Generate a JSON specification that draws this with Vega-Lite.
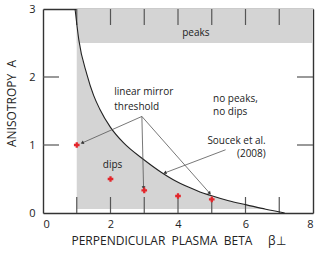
{
  "$schema": "https://vega.github.io/schema/vega-lite/v6.json",
  "width": 270,
  "height": 204,
  "autosize": {"type": "none"},
  "padding": {"left": 43, "top": 9, "right": 19, "bottom": 44},
  "config": {
    "view": {"stroke": null},
    "font": "Open Sans",
    "axis": {
      "domainColor": "#333333",
      "domainWidth": 1.4,
      "ticks": false,
      "labelColor": "#222222",
      "labelFontSize": 11,
      "titleColor": "#222222",
      "titleFontSize": 12,
      "titleFontWeight": "normal",
      "grid": false,
      "zindex": 1
    }
  },
  "datasets": {
    "band": [{"x": 1, "x2": 8, "y": 2.5, "y2": 3}],
    "curve": [
      {"beta": 0.95, "a": 3.0},
      {"beta": 1.06, "a": 2.55},
      {"beta": 1.3, "a": 2.04},
      {"beta": 1.5, "a": 1.73},
      {"beta": 1.68, "a": 1.53},
      {"beta": 2.0, "a": 1.26},
      {"beta": 2.39, "a": 1.03},
      {"beta": 3.0, "a": 0.78},
      {"beta": 3.5, "a": 0.6},
      {"beta": 3.86, "a": 0.49},
      {"beta": 4.36, "a": 0.37},
      {"beta": 4.65, "a": 0.31},
      {"beta": 4.95, "a": 0.26},
      {"beta": 5.5, "a": 0.18},
      {"beta": 6.03, "a": 0.12},
      {"beta": 6.6, "a": 0.055},
      {"beta": 7.16, "a": 0.0}
    ],
    "dips": [
      {"beta": 1.0, "a": 2.8},
      {"beta": 1.06, "a": 2.55},
      {"beta": 1.3, "a": 2.04},
      {"beta": 1.5, "a": 1.73},
      {"beta": 1.68, "a": 1.53},
      {"beta": 2.0, "a": 1.26},
      {"beta": 2.39, "a": 1.03},
      {"beta": 3.0, "a": 0.78},
      {"beta": 3.5, "a": 0.6},
      {"beta": 3.86, "a": 0.49},
      {"beta": 4.36, "a": 0.37},
      {"beta": 4.65, "a": 0.31},
      {"beta": 4.95, "a": 0.26},
      {"beta": 5.5, "a": 0.18},
      {"beta": 6.03, "a": 0.12},
      {"beta": 6.6, "a": 0.06}
    ],
    "mirror": [
      {"beta": 1, "a": 1.0},
      {"beta": 2, "a": 0.5},
      {"beta": 3, "a": 0.333},
      {"beta": 4, "a": 0.25},
      {"beta": 5, "a": 0.2}
    ],
    "arrows": [
      {"x": 2.93, "y": 1.42, "x2": 1.16, "y2": 1.03, "angle": 246},
      {"x": 2.93, "y": 1.42, "x2": 2.98, "y2": 0.37, "angle": 179},
      {"x": 2.93, "y": 1.42, "x2": 4.94, "y2": 0.29, "angle": 139},
      {"x": 5.41, "y": 0.93, "x2": 3.61, "y2": 0.59, "angle": 249}
    ],
    "ticksX": [
      {"v": 1}, {"v": 2}, {"v": 3}, {"v": 4}, {"v": 5}, {"v": 6}, {"v": 7}
    ],
    "ticksY": [
      {"v": 1}, {"v": 2}
    ],
    "labelsLeft": [
      {"text": "linear mirror", "x": 2.11, "y": 1.774},
      {"text": "threshold", "x": 2.11, "y": 1.56},
      {"text": "no peaks,", "x": 5.04, "y": 1.68},
      {"text": "no dips", "x": 5.04, "y": 1.485}
    ],
    "labelsCenter": [
      {"text": "peaks", "x": 4.53, "y": 2.64},
      {"text": "dips", "x": 2.06, "y": 0.7}
    ],
    "labelsRight": [
      {"text": "Soucek et al.", "x": 6.6, "y": 1.06},
      {"text": "(2008)", "x": 6.6, "y": 0.87}
    ]
  },
  "layer": [
    {
      "data": {"name": "band"},
      "mark": {"type": "rect", "fill": "#d4d4d4"},
      "encoding": {
        "x": {"field": "x", "type": "quantitative",
              "scale": {"domain": [0, 8], "nice": false, "zero": false},
              "axis": {"orient": "top", "values": [1, 2, 3, 4, 5, 6, 7], "labels": false, "title": null}},
        "x2": {"field": "x2"},
        "y": {"field": "y", "type": "quantitative",
              "scale": {"domain": [0, 3], "nice": false, "zero": false},
              "axis": {"orient": "right", "values": [1, 2], "labels": false, "title": null}},
        "y2": {"field": "y2"}
      }
    },
    {
      "data": {"name": "dips"},
      "mark": {"type": "area", "fill": "#d4d4d4", "interpolate": "monotone"},
      "encoding": {
        "x": {"field": "beta", "type": "quantitative", "axis": null},
        "y": {"field": "a", "type": "quantitative", "axis": null},
        "y2": {"datum": 0.06}
      }
    },
    {
      "data": {"name": "ticksX"},
      "mark": {"type": "rule", "stroke": "#555555", "strokeWidth": 1.2},
      "encoding": {
        "x": {"field": "v", "type": "quantitative", "axis": null},
        "y": {"datum": 0, "type": "quantitative", "axis": null},
        "y2": {"datum": 0.235}
      }
    },
    {
      "data": {"name": "ticksX"},
      "mark": {"type": "rule", "stroke": "#555555", "strokeWidth": 1.2},
      "encoding": {
        "x": {"field": "v", "type": "quantitative", "axis": null},
        "y": {"datum": 2.765, "type": "quantitative", "axis": null},
        "y2": {"datum": 3}
      }
    },
    {
      "data": {"name": "ticksY"},
      "mark": {"type": "rule", "stroke": "#555555", "strokeWidth": 1.2},
      "encoding": {
        "y": {"field": "v", "type": "quantitative", "axis": null},
        "x": {"datum": 0, "type": "quantitative", "axis": null},
        "x2": {"datum": 0.474}
      }
    },
    {
      "data": {"name": "ticksY"},
      "mark": {"type": "rule", "stroke": "#555555", "strokeWidth": 1.2},
      "encoding": {
        "y": {"field": "v", "type": "quantitative", "axis": null},
        "x": {"datum": 7.526, "type": "quantitative", "axis": null},
        "x2": {"datum": 8}
      }
    },
    {
      "data": {"name": "curve"},
      "mark": {"type": "line", "stroke": "#222222", "strokeWidth": 1.1, "interpolate": "monotone"},
      "encoding": {
        "x": {"field": "beta", "type": "quantitative",
              "axis": {"orient": "bottom", "values": [0, 2, 4, 6, 8],
                       "labelPadding": 5,
                       "title": "PERPENDICULAR\u00a0\u00a0PLASMA\u00a0\u00a0BETA\u00a0\u00a0\u00a0\u00a0\u00a0\u03b2\u22a5",
                       "titlePadding": 6}},
        "y": {"field": "a", "type": "quantitative",
              "axis": {"orient": "left", "values": [0, 1, 2, 3],
                       "labelPadding": 8,
                       "title": "ANISOTROPY\u00a0\u00a0A",
                       "titlePadding": 10,
                       "titleY": 94}}
      }
    },
    {
      "data": {"name": "arrows"},
      "mark": {"type": "rule", "stroke": "#555555", "strokeWidth": 0.8},
      "encoding": {
        "x": {"field": "x", "type": "quantitative", "axis": null},
        "y": {"field": "y", "type": "quantitative", "axis": null},
        "x2": {"field": "x2"},
        "y2": {"field": "y2"}
      }
    },
    {
      "data": {"name": "arrows"},
      "mark": {"type": "point", "shape": "triangle-up", "filled": true, "color": "#333333", "size": 14, "opacity": 1},
      "encoding": {
        "x": {"field": "x2", "type": "quantitative", "axis": null},
        "y": {"field": "y2", "type": "quantitative", "axis": null},
        "angle": {"field": "angle", "type": "quantitative", "scale": null}
      }
    },
    {
      "data": {"name": "mirror"},
      "mark": {"type": "point", "shape": "cross", "filled": true, "color": "#e3262b", "size": 32, "opacity": 1},
      "encoding": {
        "x": {"field": "beta", "type": "quantitative", "axis": null},
        "y": {"field": "a", "type": "quantitative", "axis": null}
      }
    },
    {
      "data": {"name": "labelsLeft"},
      "mark": {"type": "text", "align": "left", "baseline": "middle", "fontSize": 10, "color": "#222222"},
      "encoding": {
        "x": {"field": "x", "type": "quantitative", "axis": null},
        "y": {"field": "y", "type": "quantitative", "axis": null},
        "text": {"field": "text"}
      }
    },
    {
      "data": {"name": "labelsCenter"},
      "mark": {"type": "text", "align": "center", "baseline": "middle", "fontSize": 10, "color": "#222222"},
      "encoding": {
        "x": {"field": "x", "type": "quantitative", "axis": null},
        "y": {"field": "y", "type": "quantitative", "axis": null},
        "text": {"field": "text"}
      }
    },
    {
      "data": {"name": "labelsRight"},
      "mark": {"type": "text", "align": "right", "baseline": "middle", "fontSize": 10, "color": "#222222"},
      "encoding": {
        "x": {"field": "x", "type": "quantitative", "axis": null},
        "y": {"field": "y", "type": "quantitative", "axis": null},
        "text": {"field": "text"}
      }
    }
  ],
  "resolve": {"axis": {"x": "independent", "y": "independent"}}
}
